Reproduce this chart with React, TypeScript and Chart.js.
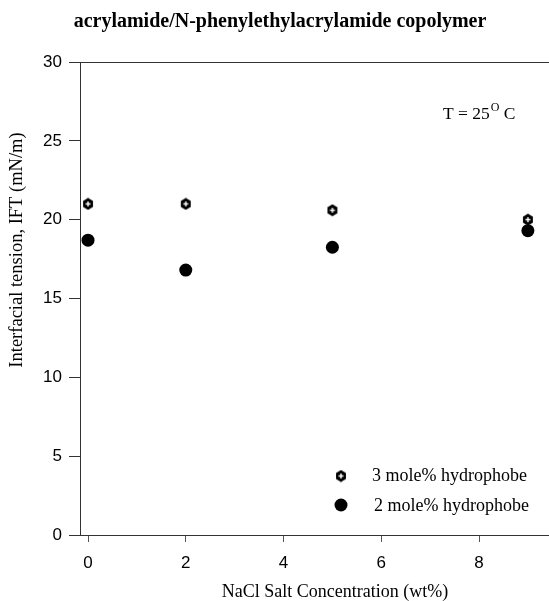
import React, { useEffect, useRef } from "react";
import { Chart, registerables } from "chart.js";

Chart.register(...registerables);

// NaCl concentration (wt%) and interfacial tension (mN/m)
const saltConc = [0, 2, 5, 9];
const ift3Mole = [21.0, 21.0, 20.6, 20.0];
const ift2Mole = [18.7, 16.8, 18.25, 19.3];
const xTicks = [0, 2, 4, 6, 8];
const seriesNames = ["3 mole% hydrophobe", "2 mole% hydrophobe"];

const SERIF = "'Liberation Serif', 'Times New Roman', serif";
const SANS = "'Liberation Sans', Arial, sans-serif";

function makeHexMarker(): HTMLCanvasElement {
  const c = document.createElement("canvas");
  c.width = 12;
  c.height = 13;
  const g = c.getContext("2d")!;
  g.fillStyle = "#000";
  g.beginPath();
  const cx = 6, cy = 6.5, r = 6;
  for (let i = 0; i < 6; i++) {
    const a = Math.PI / 6 + (i * Math.PI) / 3;
    const px = cx + r * Math.cos(a) * 0.95;
    const py = cy + r * Math.sin(a);
    if (i === 0) g.moveTo(px, py);
    else g.lineTo(px, py);
  }
  g.closePath();
  g.fill();
  g.strokeStyle = "#fff";
  g.lineWidth = 1.4;
  g.beginPath();
  g.moveTo(cx - 2.5, cy);
  g.lineTo(cx + 2.5, cy);
  g.moveTo(cx, cy - 2.5);
  g.lineTo(cx, cy + 2.5);
  g.stroke();
  return c;
}

export default function App() {
  const ref = useRef<HTMLCanvasElement | null>(null);

  useEffect(() => {
    if (!ref.current) return;
    const hex = makeHexMarker();

    const decorations = {
      id: "decorations",
      afterDraw(chart: any) {
        const ctx = chart.ctx;
        const area = chart.chartArea;
        ctx.save();
        // top frame line
        ctx.strokeStyle = "#333";
        ctx.lineWidth = 1;
        ctx.beginPath();
        ctx.moveTo(area.left, area.top + 0.5);
        ctx.lineTo(chart.width, area.top + 0.5);
        ctx.stroke();

        ctx.fillStyle = "#000";
        // title
        ctx.font = `bold 20px ${SERIF}`;
        ctx.textAlign = "center";
        ctx.textBaseline = "middle";
        ctx.fillText("acrylamide/N-phenylethylacrylamide copolymer", 280, 22);

        // axis titles
        ctx.font = `18px ${SERIF}`;
        ctx.fillText("NaCl Salt Concentration (wt%)", 335, 592);
        ctx.save();
        ctx.translate(17, 250);
        ctx.rotate(-Math.PI / 2);
        ctx.font = `18.5px ${SERIF}`;
        ctx.fillText("Interfacial tension, IFT (mN/m)", 0, 0);
        ctx.restore();

        // temperature annotation
        ctx.textAlign = "left";
        ctx.textBaseline = "alphabetic";
        ctx.font = `17.5px ${SERIF}`;
        let x = 443;
        const t1 = "T = 25";
        ctx.fillText(t1, x, 119);
        x += ctx.measureText(t1).width + 1;
        ctx.font = `12px ${SERIF}`;
        ctx.fillText("O", x, 111);
        x += ctx.measureText("O").width;
        ctx.font = `17.5px ${SERIF}`;
        ctx.fillText(" C", x, 119);

        // legend
        ctx.font = `18px ${SERIF}`;
        ctx.textBaseline = "middle";
        ctx.drawImage(hex, 341 - 6, 476 - 6.5);
        ctx.fillText(seriesNames[0], 372, 476);
        ctx.beginPath();
        ctx.arc(341, 505, 6.5, 0, Math.PI * 2);
        ctx.fill();
        ctx.fillText(seriesNames[1], 374, 506);
        ctx.restore();
      },
    };

    const chart = new Chart(ref.current, {
      type: "scatter",
      data: {
        datasets: [
          {
            label: seriesNames[0],
            data: saltConc.map((x, i) => ({ x, y: ift3Mole[i] })),
            pointStyle: hex as any,
            pointRadius: 6,
          },
          {
            label: seriesNames[1],
            data: saltConc.map((x, i) => ({ x, y: ift2Mole[i] })),
            pointStyle: "circle",
            pointRadius: 6.5,
            backgroundColor: "#000",
            borderColor: "#000",
            borderWidth: 0,
          },
        ],
      },
      options: {
        responsive: false,
        animation: false,
        layout: { autoPadding: false, padding: { left: 0, top: 62, right: 0, bottom: 0 } },
        plugins: {
          legend: { display: false },
          title: { display: false },
          tooltip: { enabled: false },
        },
        scales: {
          x: {
            type: "linear",
            min: -0.164,
            max: 9.432,
            afterBuildTicks: (s: any) => {
              s.ticks = xTicks.map((v) => ({ value: v }));
            },
            afterFit: (s: any) => {
              s.height = 66;
              s.paddingLeft = 0;
              s.paddingRight = 0;
            },
            grid: {
              drawOnChartArea: false,
              drawTicks: true,
              tickLength: 7,
              color: "#555",
            },
            border: { display: true, color: "#333", width: 1 },
            ticks: {
              padding: 11,
              color: "#000",
              font: { family: SANS, size: 17 },
            },
          },
          y: {
            type: "linear",
            min: 0,
            max: 30,
            afterFit: (s: any) => {
              s.width = 80;
              s.paddingTop = 0;
              s.paddingBottom = 0;
            },
            grid: {
              drawOnChartArea: false,
              drawTicks: true,
              tickLength: 11,
              color: "#333",
            },
            border: { display: true, color: "#333", width: 1 },
            ticks: {
              stepSize: 5,
              padding: 7,
              color: "#000",
              font: { family: SANS, size: 17 },
            },
          },
        },
      },
      plugins: [decorations],
    });
    return () => chart.destroy();
  }, []);

  return (
    <div style={{ position: "absolute", left: 0, top: 0, width: 549, height: 601, background: "#fff" }}>
      <canvas ref={ref} width={549} height={601} />
    </div>
  );
}
